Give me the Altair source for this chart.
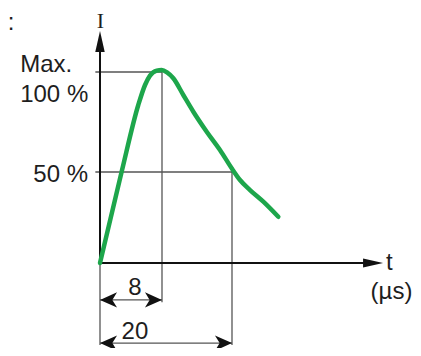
import altair as alt
import pandas as pd

# ---- data ----
# surge current waveform: time t (µs) and current I (% of max)
curve_t = [0, 2.80, 4.94, 5.81, 6.45, 7.32, 7.96, 8.86, 9.94, 11.65, 13.37, 15.66, 17.94, 19.95, 21.37, 23.09, 25.37, 27.94]
curve_i = [0, 50.2, 83.5, 93.5, 98.2, 100.7, 101.0, 99.8, 96.85, 88.5, 80.15, 70.15, 61.0, 51.85, 45.6, 40.1, 33.7, 25.4]

t_peak = 8      # front time (µs)
t_half = 20     # time to half value (µs)
i_max = 100     # %
i_half = 50     # %

level_labels = ["Max.", "100 %", "50 %"]
dim_labels = ["8", "20"]
axis_labels = ["I", "t", "(µs)"]

# ---- schematic (non-proportional) scales ----
X_DOM = [0, t_peak, t_half, 50]
X_RNG = [92, 154, 224, 399]
Y_DOM = [0, i_half, i_max]
Y_RNG = [255, 164, 64]
xs = alt.Scale(domain=X_DOM, range=X_RNG, nice=False, zero=False)
ys = alt.Scale(domain=Y_DOM, range=Y_RNG, nice=False, zero=False)

# annotation anchor positions (data units)
T_AXIS_END = 45.9
I_AXIS_END = 120.5
I_DIM8 = -20.3
I_DIM20 = -44
I_EXT8 = -21.5
I_EXT = -45
T_TICK = -0.6

X = lambda f: alt.X(f, type="quantitative", scale=xs, axis=None)
Y = lambda f: alt.Y(f, type="quantitative", scale=ys, axis=None)

curve = pd.DataFrame({"t": curve_t, "i": curve_i})

axes = pd.DataFrame([
    {"x1": 0, "y1": 0, "x2": 0, "y2": I_AXIS_END - 3},
    {"x1": 0, "y1": 0, "x2": T_AXIS_END - 1, "y2": 0},
])
refs = pd.DataFrame([
    {"x1": T_TICK, "y1": i_max, "x2": t_peak, "y2": i_max},
    {"x1": T_TICK, "y1": i_half, "x2": t_half, "y2": i_half},
    {"x1": t_peak, "y1": i_max, "x2": t_peak, "y2": I_EXT8},
    {"x1": t_half, "y1": i_half, "x2": t_half, "y2": I_EXT},
    {"x1": 0, "y1": 0, "x2": 0, "y2": I_EXT},
    {"x1": 0, "y1": I_DIM8, "x2": t_peak, "y2": I_DIM8},
    {"x1": 0, "y1": I_DIM20, "x2": t_half, "y2": I_DIM20},
])

def seg_layer(df, color, width):
    return alt.Chart(df).mark_rule(color=color, strokeWidth=width).encode(
        x=X("x1"), y=Y("y1"), x2="x2", y2="y2")

LEFT_HEAD = "M0,0 L2,-0.9 L1.45,0 L2,0.9 Z"
RIGHT_HEAD = "M0,0 L-2,-0.9 L-1.45,0 L-2,0.9 Z"
UP_HEAD = "M0,0 L-0.45,2 L0.45,2 Z"
AXIS_RIGHT = "M0,0 L-2,-0.45 L-2,0.45 Z"

def head(df, shape, size):
    return alt.Chart(pd.DataFrame(df)).mark_point(
        shape=shape, size=size, filled=True, color="#111111", opacity=1, strokeWidth=0
    ).encode(x=X("t"), y=Y("i"))

heads = [
    head([{"t": 0, "i": I_DIM8}, {"t": 0, "i": I_DIM20}], LEFT_HEAD, 290),
    head([{"t": t_peak, "i": I_DIM8}, {"t": t_half, "i": I_DIM20}], RIGHT_HEAD, 290),
    head([{"t": 0, "i": I_AXIS_END}], UP_HEAD, 441),
    head([{"t": T_AXIS_END, "i": 0}], AXIS_RIGHT, 400),
]

FONT = "Liberation Sans"
TXT = "#1e1e1e"

def text_layer(rows, align, size=24, font=FONT):
    return alt.Chart(pd.DataFrame(rows)).mark_text(
        align=align, baseline="alphabetic", font=font, fontSize=size, color=TXT
    ).encode(x=X("t"), y=Y("i"), text="label:N")

texts = [
    text_layer([
        {"label": level_labels[0], "t": -10.3, "i": 100},
        {"label": level_labels[1], "t": -10.3, "i": 85},
        {"label": axis_labels[1], "t": 46.4, "i": -3.9},
        {"label": ":", "t": -11.9, "i": 121},
    ], "left"),
    text_layer([
        {"label": level_labels[2], "t": -1.55, "i": 44.5},
    ], "right"),
    text_layer([
        {"label": dim_labels[0], "t": 4.5, "i": -17.6},
        {"label": dim_labels[1], "t": 4.5, "i": -41.8},
        {"label": axis_labels[2], "t": 47.34, "i": -19.8},
    ], "center"),
    text_layer([
        {"label": axis_labels[0], "t": 0.05, "i": 122.2},
    ], "center", size=22, font="Liberation Serif"),
]

curve_layer = alt.Chart(curve).mark_line(
    color="#1da64b", strokeWidth=4.5, interpolate="monotone", strokeCap="round"
).encode(x=X("t"), y=Y("i"))

chart = alt.layer(
    seg_layer(refs, "#555555", 1.3),
    seg_layer(axes, "#111111", 2),
    *heads,
    curve_layer,
    *texts,
).properties(
    width=405, height=340, padding=0,
    autosize=alt.AutoSizeParams(type="none"),
).configure_view(stroke=None)

chart.save("out.html", embed_options={"renderer": "svg", "actions": False})
